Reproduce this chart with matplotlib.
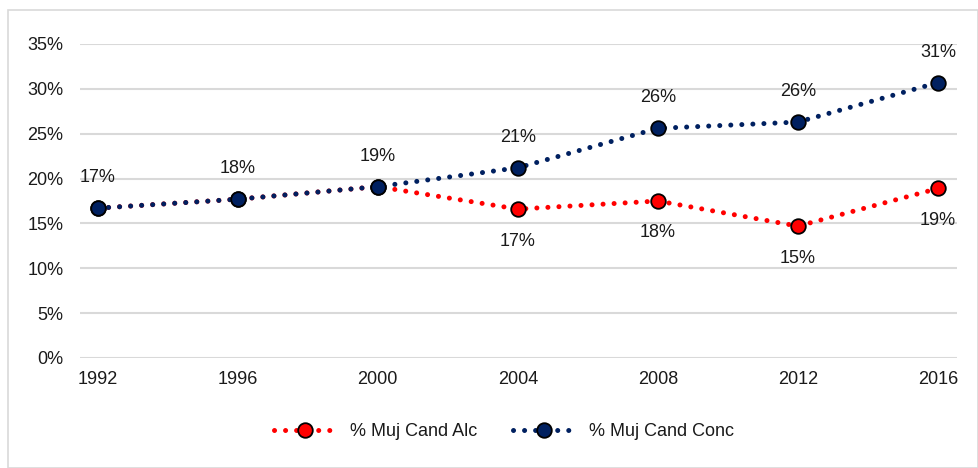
import matplotlib
matplotlib.use("Agg")
import matplotlib.pyplot as plt
from matplotlib.patches import Rectangle
from matplotlib.ticker import FuncFormatter

years = ["1992", "1996", "2000", "2004", "2008", "2012", "2016"]
alc = [0.167, 0.177, 0.191, 0.166, 0.175, 0.147, 0.189]
conc = [0.167, 0.177, 0.191, 0.212, 0.256, 0.263, 0.307]
alc_labels = ["17%", "18%", "19%", "17%", "18%", "15%", "19%"]
conc_labels = ["17%", "18%", "19%", "21%", "26%", "26%", "31%"]

plt.rcParams['font.family'] = ['Liberation Sans', 'DejaVu Sans']

fs = 13
fig = plt.figure(figsize=(9.79, 4.68), dpi=100)
fig.patches.append(Rectangle((8/979, 0), 1 - 8/979 - 0.5/979, 1 - 10/468,
                             transform=fig.transFigure, fill=False,
                             edgecolor='#d9d9d9', linewidth=1.2))
ax = fig.add_axes([80/979, 1 - 358/468, 877/979, (358 - 44)/468])

x = list(range(len(years)))
red = '#FF0000'
navy = '#002060'
dots = (0, (0.01, 2.2))

ax.plot(x, alc, color=red, linestyle=dots, linewidth=3.6, dash_capstyle='round',
        marker='o', markersize=10.5, markerfacecolor=red, markeredgecolor='black',
        markeredgewidth=1.3, label='% Muj Cand Alc', zorder=3)
ax.plot(x, conc, color=navy, linestyle=dots, linewidth=3.6, dash_capstyle='round',
        marker='o', markersize=10.5, markerfacecolor=navy, markeredgecolor='black',
        markeredgewidth=1.3, label='% Muj Cand Conc', zorder=4)

for i in range(len(years)):
    ax.annotate(conc_labels[i], (x[i], conc[i]), xytext=(0, 22), textcoords='offset points',
                ha='center', va='center', fontsize=fs, color='#1a1a1a')
    if i >= 3:
        ax.annotate(alc_labels[i], (x[i], alc[i]), xytext=(0, -23), textcoords='offset points',
                    ha='center', va='center', fontsize=fs, color='#1a1a1a')

ax.set_ylim(0, 0.35)
ax.set_yticks([0, 0.05, 0.10, 0.15, 0.20, 0.25, 0.30, 0.35])
ax.yaxis.set_major_formatter(FuncFormatter(lambda v, p: f"{v*100:.0f}%"))
ax.set_xlim(-0.125, 6.135)
ax.set_xticks(x)
ax.set_xticklabels(years)
ax.tick_params(axis='both', length=0, labelsize=fs, colors='#1a1a1a')
ax.tick_params(axis='y', pad=12)
ax.tick_params(axis='x', pad=9)
ax.grid(axis='y', color='#d9d9d9', linewidth=1.5)
ax.set_axisbelow(True)
for s in ax.spines.values():
    s.set_visible(False)

leg = fig.legend(loc='center', bbox_to_anchor=(504/979, 1 - 432/468), ncol=2,
                 frameon=False, fontsize=fs, handlelength=3.4, columnspacing=2.0,
                 handletextpad=0.8)
for t in leg.get_texts():
    t.set_color('#1a1a1a')

fig.savefig("out.png", dpi=100)
